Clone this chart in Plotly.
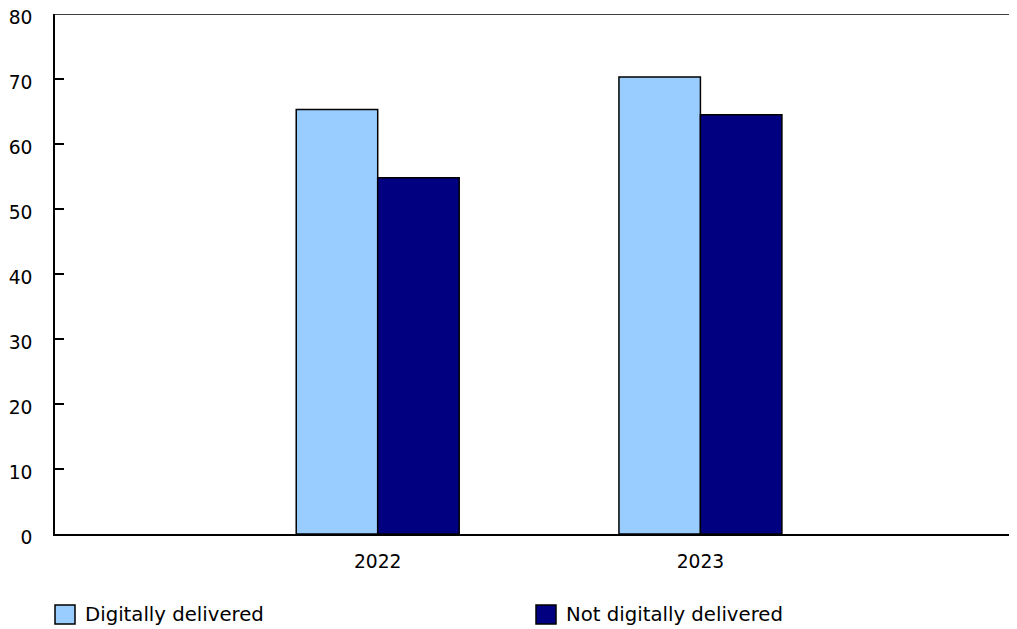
import plotly.graph_objects as go

years = ["2022", "2023"]
series_names = ["Digitally delivered", "Not digitally delivered"]
digital = [65.3, 70.3]
not_digital = [54.8, 64.5]
colors = ["#99CCFF", "#000080"]

# page body has an 8px margin; figure is sized/offset to compensate
OFF = 8
W, H = 1017 - OFF, 629 - OFF
ML, MR, MT, MB = 55 - OFF, 0, 14 - OFF, 629 - 534
FONT = "Verdana, DejaVu Sans, sans-serif"
FS = 18.7

fig = go.Figure()
for name, vals, col in zip(series_names, [digital, not_digital], colors):
    fig.add_trace(go.Bar(x=years, y=vals, name=name,
                         marker=dict(color=col, line=dict(color="black", width=1.5)),
                         showlegend=False))

fig.update_layout(
    width=W, height=H,
    margin=dict(l=ML, r=MR, t=MT, b=MB, pad=0, autoexpand=False),
    paper_bgcolor="white", plot_bgcolor="white",
    barmode="group", bargap=0.495, bargroupgap=0,
    font=dict(family=FONT, size=FS, color="black"),
    xaxis=dict(type="category", range=[-1, 1.981], showline=True, linecolor="black", linewidth=1.5,
               ticks="", showgrid=False, zeroline=False, ticklabelstandoff=10, automargin=False),
    yaxis=dict(range=[0, 80], dtick=10, showline=True, linecolor="black", linewidth=1.5,
               ticks="inside", ticklen=9, tickcolor="black", tickwidth=1.5,
               showgrid=False, zeroline=False, ticklabelstandoff=17, ticklabelshift=3,
               ticklabeloverflow="allow", automargin=False),
)

# top border
fig.add_shape(type="line", xref="paper", yref="y", x0=0, x1=1, y0=80, y1=80,
              line=dict(color="black", width=1.5))

# manual legend (positions given in page pixels)
pw = W - ML - MR
ph = H - MT - MB
def px_to_paper_x(px):
    return (px - OFF - ML) / pw
def px_to_paper_y(py):
    return (H - MB - (py - OFF)) / ph

legend_x = [55, 536]
for name, col, lx in zip(series_names, colors, legend_x):
    fig.add_shape(type="rect", xref="paper", yref="paper",
                  x0=px_to_paper_x(lx), x1=px_to_paper_x(lx + 20),
                  y0=px_to_paper_y(624), y1=px_to_paper_y(605),
                  fillcolor=col, line=dict(color="black", width=1.5))
    fig.add_annotation(xref="paper", yref="paper", x=px_to_paper_x(lx + 28), y=px_to_paper_y(614.5),
                       text=name, showarrow=False, xanchor="left", yanchor="middle",
                       font=dict(family=FONT, size=19.7, color="black"))

fig.write_html("out.html")
